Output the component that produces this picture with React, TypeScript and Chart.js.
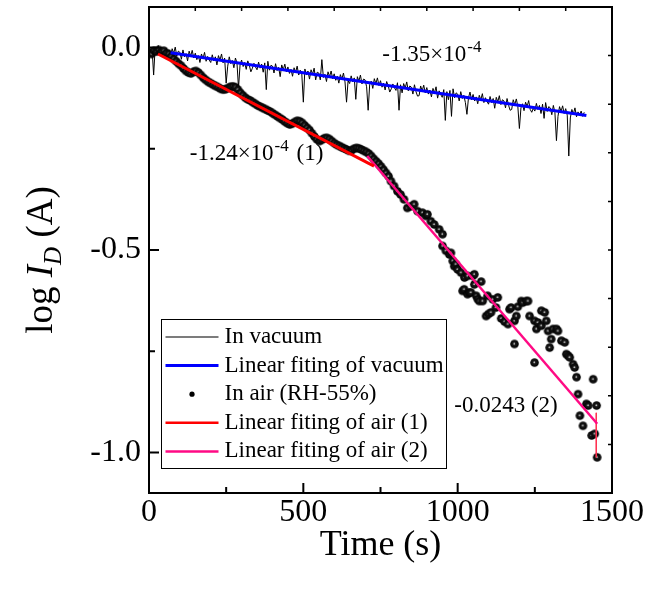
import React, { useEffect, useRef } from "react";
import { Chart, registerables } from "chart.js";

Chart.register(...registerables);

const FONT = "'Liberation Serif', 'Times New Roman', serif";

// ---- axes ----
const X_RANGE = [0, 1500];
const Y_RANGE = [-1.1, 0.1];
const X_TICKS = [0, 500, 1000, 1500];
const X_MINOR_TICKS = [250, 750, 1250];
const Y_TICKS = [0, -0.5, -1.0];
const Y_MINOR_TICKS = [-0.25, -0.75];
const TOP_TICKS = [150, 300, 450, 600, 750, 900, 1050, 1200, 1350];
const RIGHT_TICKS = [-0.98, -0.86, -0.74, -0.62, -0.5, -0.38, -0.26, -0.14, -0.02];
const X_TITLE = "Time (s)";

// ---- In vacuum (sampled every 5 s) ----
const VACUUM_T_STEP = 5;
const VACUUM_LOGI = [
  0.003, -0.013, -0.003, -0.068, 0.001, -0.010, 0.005, -0.017, -0.005, -0.014,
  -0.020, -0.001, -0.016, -0.006, -0.026, -0.003, -0.014, 0.001, -0.021, -0.009,
  -0.012, -0.029, -0.006, -0.023, -0.015, -0.033, -0.009, -0.021, -0.007, -0.026,
  -0.014, -0.030, -0.020, -0.037, -0.016, -0.027, -0.012, -0.034, -0.022, -0.031,
  -0.037, -0.018, -0.033, -0.023, -0.043, -0.020, -0.031, -0.016, -0.038, -0.026,
  -0.088, -0.046, -0.023, -0.040, -0.032, -0.050, -0.026, -0.038, -0.100, -0.043,
  -0.031, -0.047, -0.037, -0.054, -0.033, -0.044, -0.060, -0.051, -0.039, -0.048,
  -0.055, -0.036, -0.051, -0.041, -0.061, -0.038, -0.104, -0.034, -0.056, -0.044,
  -0.046, -0.063, -0.040, -0.057, -0.049, -0.072, -0.043, -0.055, -0.041, -0.060,
  -0.048, -0.064, -0.054, -0.071, -0.050, -0.061, -0.046, -0.068, -0.056, -0.065,
  -0.135, -0.053, -0.068, -0.058, -0.078, -0.055, -0.066, -0.051, -0.080, -0.061,
  -0.063, -0.080, -0.030, -0.074, -0.066, -0.084, -0.060, -0.072, -0.058, -0.077,
  -0.065, -0.081, -0.071, -0.088, -0.067, -0.078, -0.063, -0.085, -0.135, -0.082,
  -0.089, -0.070, -0.085, -0.075, -0.128, -0.072, -0.083, -0.068, -0.090, -0.078,
  -0.080, -0.097, -0.155, -0.091, -0.083, -0.101, -0.077, -0.089, -0.075, -0.094,
  -0.082, -0.098, -0.088, -0.105, -0.084, -0.095, -0.110, -0.102, -0.090, -0.099,
  -0.106, -0.087, -0.155, -0.092, -0.112, -0.089, -0.100, -0.085, -0.107, -0.095,
  -0.098, -0.115, -0.092, -0.109, -0.120, -0.119, -0.095, -0.107, -0.093, -0.112,
  -0.099, -0.115, -0.105, -0.122, -0.101, -0.112, -0.097, -0.125, -0.107, -0.116,
  -0.123, -0.104, -0.180, -0.109, -0.129, -0.106, -0.170, -0.102, -0.124, -0.112,
  -0.115, -0.132, -0.109, -0.126, -0.118, -0.136, -0.165, -0.124, -0.110, -0.129,
  -0.116, -0.132, -0.122, -0.139, -0.118, -0.129, -0.114, -0.136, -0.124, -0.133,
  -0.140, -0.121, -0.136, -0.126, -0.150, -0.123, -0.134, -0.119, -0.141, -0.129,
  -0.132, -0.149, -0.126, -0.143, -0.155, -0.153, -0.129, -0.141, -0.127, -0.146,
  -0.200, -0.149, -0.139, -0.156, -0.135, -0.146, -0.131, -0.153, -0.160, -0.150,
  -0.157, -0.138, -0.153, -0.143, -0.163, -0.140, -0.175, -0.136, -0.158, -0.146,
  -0.149, -0.166, -0.143, -0.160, -0.230, -0.170, -0.146, -0.158, -0.144, -0.163,
  -0.151, -0.167, -0.268, -0.174, -0.153, -0.164, -0.149, -0.171, -0.159, -0.168,
  -0.157, -0.170, -0.160,
];

// ---- In air (RH-55%) ----
const AIR_T = [
  0, 8, 16, 24, 32, 40, 48, 56, 64, 72, 80, 88, 96, 104, 112, 120, 128, 136, 144, 152,
  160, 168, 176, 184, 192, 200, 208, 216, 224, 232, 240, 248, 256, 264, 272, 280, 288, 296, 304, 312,
  320, 328, 336, 344, 352, 360, 368, 376, 384, 392, 400, 408, 416, 424, 432, 440, 448, 456, 464, 472,
  480, 488, 496, 504, 512, 520, 528, 536, 544, 552, 560, 568, 576, 584, 592, 600, 608, 616, 624, 632,
  640, 648, 656, 664, 672, 680, 688, 696, 704, 712, 720, 728, 736, 744, 752, 760, 768, 776, 784,
  794, 805, 815, 826, 837, 848, 859, 870, 886, 897, 902, 913, 924, 940, 951, 951, 962, 973, 978, 984,
  989, 994, 1000, 1011, 1016, 1021, 1022, 1032, 1032, 1038, 1043, 1049, 1054, 1054, 1060, 1065, 1070, 1076, 1081, 1092,
  1097, 1100, 1108, 1114, 1124, 1130, 1141, 1152, 1163, 1168, 1173, 1184, 1184, 1190, 1195, 1206, 1211, 1222, 1228, 1233,
  1249, 1249, 1255, 1260, 1271, 1271, 1282, 1287, 1293, 1298, 1303, 1309, 1320, 1325, 1336, 1347, 1352, 1358, 1363, 1374,
  1379, 1385, 1390, 1396, 1406, 1417, 1423, 1434, 1439, 1444, 1450, 1452,
];
const AIR_LOGI = [
  -0.012, -0.016, -0.008, -0.010, -0.006, -0.010, -0.008, -0.014, -0.016, -0.022,
  -0.028, -0.034, -0.040, -0.045, -0.052, -0.058, -0.062, -0.064, -0.060, -0.058,
  -0.062, -0.068, -0.075, -0.080, -0.085, -0.088, -0.092, -0.095, -0.098, -0.102,
  -0.104, -0.103, -0.100, -0.097, -0.096, -0.098, -0.104, -0.112, -0.118, -0.124,
  -0.128, -0.131, -0.135, -0.139, -0.143, -0.146, -0.149, -0.152, -0.155, -0.158,
  -0.162, -0.166, -0.170, -0.174, -0.178, -0.183, -0.187, -0.190, -0.188, -0.184,
  -0.181, -0.182, -0.186, -0.192, -0.198, -0.204, -0.212, -0.220, -0.227, -0.231,
  -0.228, -0.224, -0.223, -0.226, -0.231, -0.236, -0.240, -0.243, -0.246, -0.249,
  -0.252, -0.255, -0.254, -0.250, -0.248, -0.249, -0.252, -0.255, -0.258, -0.262,
  -0.268, -0.275, -0.281, -0.287, -0.294, -0.302, -0.310, -0.318, -0.330,
  -0.342, -0.355, -0.363, -0.375, -0.396, -0.392, -0.387, -0.404, -0.408, -0.416,
  -0.412, -0.429, -0.437, -0.449, -0.461, -0.490, -0.502, -0.511, -0.507, -0.527,
  -0.540, -0.535, -0.548, -0.556, -0.601, -0.597, -0.568, -0.564, -0.609, -0.605,
  -0.605, -0.564, -0.560, -0.585, -0.613, -0.621, -0.626, -0.578, -0.626, -0.663,
  -0.613, -0.658, -0.654, -0.622, -0.642, -0.617, -0.669, -0.677, -0.683, -0.646,
  -0.642, -0.675, -0.732, -0.663, -0.640, -0.626, -0.630, -0.626, -0.626, -0.663,
  -0.675, -0.778, -0.695, -0.679, -0.650, -0.687, -0.654, -0.675, -0.700, -0.741,
  -0.720, -0.695, -0.695, -0.700, -0.724, -0.728, -0.757, -0.761, -0.765, -0.782,
  -0.790, -0.814, -0.856, -0.909, -0.934, -0.880, -0.884, -0.958, -0.819, -0.954,
  -0.884, -1.012,
];

// ---- linear fits (end points) ----
const FIT_VACUUM_T = [70, 1417];
const FIT_VACUUM_LOGI = [-0.013, -0.168];
const FIT_AIR1_T = [29, 729];
const FIT_AIR1_LOGI = [-0.016, -0.293];
const FIT_AIR2_T = [707, 1452];
const FIT_AIR2_LOGI = [-0.268, -0.929];
const FIT_AIR2_TAIL_T = [1449, 1449];
const FIT_AIR2_TAIL_LOGI = [-0.902, -1.012];

// ---- legend & annotations ----
const LEGEND_LABELS = [
  "In vacuum",
  "Linear fiting of vacuum",
  "In air (RH-55%)",
  "Linear fiting of air (1)",
  "Linear fiting of air (2)",
];
const ANNOT_VACUUM = { t: 756, v: -0.034, main: "-1.35×10", sup: "-4", tail: "" };
const ANNOT_AIR1 = { t: 132, v: -0.277, main: "-1.24×10", sup: "-4", tail: " (1)" };
const ANNOT_AIR2 = { t: 989, v: -0.9, main: "-0.0243 (2)", sup: "", tail: "" };

const COLORS = {
  vacuum: "#000000",
  fitVacuum: "#0000ff",
  fitAir1: "#ff0000",
  fitAir2: "#ff0a84",
};

const pts = (xs: number[], ys: number[]) => xs.map((x, i) => ({ x, y: ys[i] }));

function makeBall(r: number) {
  const c = document.createElement("canvas");
  const s = Math.ceil(r * 2) + 2;
  c.width = s;
  c.height = s;
  const g = c.getContext("2d")!;
  const cx = s / 2;
  const cy = s / 2;
  const grad = g.createRadialGradient(cx - 0.3, cy - 0.3, 0, cx, cy, r);
  grad.addColorStop(0, "#ffffff");
  grad.addColorStop(0.12, "#b0b0b0");
  grad.addColorStop(0.3, "#1a1a1a");
  grad.addColorStop(1, "#000000");
  g.fillStyle = grad;
  g.beginPath();
  g.arc(cx, cy, r, 0, Math.PI * 2);
  g.fill();
  return c;
}

function drawRich(ctx: CanvasRenderingContext2D, x: number, y: number, a: { main: string; sup: string; tail: string }) {
  ctx.textBaseline = "alphabetic";
  ctx.textAlign = "left";
  ctx.fillStyle = "#000";
  ctx.font = `23px ${FONT}`;
  ctx.fillText(a.main, x, y);
  let cx = x + ctx.measureText(a.main).width;
  if (a.sup) {
    ctx.font = `17px ${FONT}`;
    ctx.fillText(a.sup, cx + 1, y - 9);
    cx += ctx.measureText(a.sup).width + 1;
  }
  if (a.tail) {
    ctx.font = `23px ${FONT}`;
    ctx.fillText(a.tail, cx + 2, y);
  }
}

const decorPlugin = {
  id: "decor",
  afterDatasetsDraw(chart: any) {
    const { ctx, chartArea: a, scales } = chart;
    const xs = scales.x;
    const ys = scales.y;
    ctx.save();
    ctx.strokeStyle = "#000";
    ctx.lineWidth = 2;
    ctx.strokeRect(a.left, a.top, a.right - a.left, a.bottom - a.top);
    ctx.beginPath();
    const seg = (x1: number, y1: number, x2: number, y2: number) => {
      ctx.moveTo(x1, y1);
      ctx.lineTo(x2, y2);
    };
    X_TICKS.forEach((v) => {
      const p = xs.getPixelForValue(v);
      seg(p, a.bottom, p, a.bottom - 10);
    });
    X_MINOR_TICKS.forEach((v) => {
      const p = xs.getPixelForValue(v);
      seg(p, a.bottom, p, a.bottom - 6);
    });
    Y_TICKS.forEach((v) => {
      const p = ys.getPixelForValue(v);
      seg(a.left, p, a.left + 10, p);
    });
    Y_MINOR_TICKS.forEach((v) => {
      const p = ys.getPixelForValue(v);
      seg(a.left, p, a.left + 6, p);
    });
    ctx.stroke();
    ctx.lineWidth = 1.5;
    ctx.beginPath();
    TOP_TICKS.forEach((v) => {
      const p = xs.getPixelForValue(v);
      seg(p, a.top, p, a.top + 4);
    });
    RIGHT_TICKS.forEach((v) => {
      const p = ys.getPixelForValue(v);
      seg(a.right, p, a.right - 4, p);
    });
    ctx.stroke();
    ctx.restore();
  },
  afterDraw(chart: any) {
    const { ctx, chartArea: a, scales } = chart;
    const xs = scales.x;
    const ys = scales.y;
    ctx.save();

    // annotations
    [ANNOT_VACUUM, ANNOT_AIR1, ANNOT_AIR2].forEach((an) => {
      drawRich(ctx, xs.getPixelForValue(an.t), ys.getPixelForValue(an.v), an);
    });

    // legend
    const lx = a.left + 12.5;
    const ly = a.top + 312.5;
    const lw = 285;
    const lh = 149;
    ctx.fillStyle = "#fff";
    ctx.fillRect(lx, ly, lw, lh);
    ctx.strokeStyle = "#000";
    ctx.lineWidth = 1;
    ctx.strokeRect(lx, ly, lw, lh);
    const rowY = (i: number) => ly + 17.5 + i * 28.6;
    const sx1 = lx + 4;
    const sx2 = lx + 57;
    const styles = [
      { color: "#505050", w: 1.5, dot: false },
      { color: COLORS.fitVacuum, w: 3, dot: false },
      { color: "#000", w: 0, dot: true },
      { color: COLORS.fitAir1, w: 2.5, dot: false },
      { color: COLORS.fitAir2, w: 2.5, dot: false },
    ];
    styles.forEach((s, i) => {
      const y = rowY(i);
      if (s.dot) {
        ctx.fillStyle = "#000";
        ctx.beginPath();
        ctx.arc((sx1 + sx2) / 2, y, 2.6, 0, Math.PI * 2);
        ctx.fill();
      } else {
        ctx.strokeStyle = s.color;
        ctx.lineWidth = s.w;
        ctx.beginPath();
        ctx.moveTo(sx1, y);
        ctx.lineTo(sx2, y);
        ctx.stroke();
      }
    });
    ctx.fillStyle = "#000";
    ctx.font = `23px ${FONT}`;
    ctx.textAlign = "left";
    ctx.textBaseline = "middle";
    LEGEND_LABELS.forEach((t, i) => ctx.fillText(t, lx + 63, rowY(i)));

    // x title
    ctx.font = `36px ${FONT}`;
    ctx.textAlign = "center";
    ctx.textBaseline = "alphabetic";
    ctx.fillText(X_TITLE, (a.left + a.right) / 2, 555);

    // y title: log I_D (A)
    const parts = [
      { t: "log ", f: `37px ${FONT}`, dy: 0 },
      { t: "I", f: `italic 37px ${FONT}`, dy: 0 },
      { t: "D", f: `italic 25px ${FONT}`, dy: 9 },
      { t: " (A)", f: `37px ${FONT}`, dy: 0 },
    ];
    let total = 0;
    const widths = parts.map((p) => {
      ctx.font = p.f;
      const w = ctx.measureText(p.t).width;
      total += w;
      return w;
    });
    ctx.translate(52, 260);
    ctx.rotate(-Math.PI / 2);
    ctx.textAlign = "left";
    ctx.textBaseline = "alphabetic";
    let cx = -total / 2;
    parts.forEach((p, i) => {
      ctx.font = p.f;
      ctx.fillText(p.t, cx, p.dy);
      cx += widths[i];
    });
    ctx.restore();
  },
};

export default function App() {
  const ref = useRef<HTMLCanvasElement | null>(null);
  useEffect(() => {
    if (!ref.current) return;
    const ball = makeBall(4.3);
    const vacuumPts = VACUUM_LOGI.map((y, i) => ({ x: i * VACUUM_T_STEP, y }));
    const chart = new Chart(ref.current, {
      type: "scatter",
      data: {
        datasets: [
          {
            label: LEGEND_LABELS[3],
            data: pts(FIT_AIR1_T, FIT_AIR1_LOGI),
            showLine: true,
            borderColor: COLORS.fitAir1,
            borderWidth: 3,
            pointRadius: 0,
          },
          {
            label: LEGEND_LABELS[4],
            data: pts(FIT_AIR2_T, FIT_AIR2_LOGI),
            showLine: true,
            borderColor: COLORS.fitAir2,
            borderWidth: 2.5,
            pointRadius: 0,
          },
          {
            label: "tail",
            data: pts(FIT_AIR2_TAIL_T, FIT_AIR2_TAIL_LOGI),
            showLine: true,
            borderColor: "#ff3050",
            borderWidth: 1,
            pointRadius: 0,
          },
          {
            label: LEGEND_LABELS[1],
            data: pts(FIT_VACUUM_T, FIT_VACUUM_LOGI),
            showLine: true,
            borderColor: COLORS.fitVacuum,
            borderWidth: 3,
            pointRadius: 0,
          },
          {
            label: LEGEND_LABELS[2],
            data: pts(AIR_T, AIR_LOGI),
            showLine: false,
            pointStyle: ball as any,
            pointRadius: 4,
          },
          {
            label: LEGEND_LABELS[0],
            data: vacuumPts,
            showLine: true,
            borderColor: COLORS.vacuum,
            borderWidth: 1,
            pointRadius: 0,
          },
        ],
      },
      options: {
        animation: false,
        responsive: false,
        devicePixelRatio: 1,
        events: [],
        layout: { padding: { top: 7, right: 36, left: 0, bottom: 0 } },
        plugins: { legend: { display: false }, tooltip: { enabled: false } },
        scales: {
          x: {
            type: "linear",
            position: "bottom",
            min: X_RANGE[0],
            max: X_RANGE[1],
            grid: { display: false, drawTicks: false },
            border: { display: false },
            ticks: {
              color: "#000",
              font: { family: FONT, size: 32 },
              padding: 0,
              maxRotation: 0,
              autoSkip: false,
              callback: (v: any) => String(v),
            },
            afterBuildTicks: (s: any) => {
              s.ticks = X_TICKS.map((value) => ({ value }));
            },
            afterFit: (s: any) => {
              s.height = 100;
              s.paddingLeft = 0;
              s.paddingRight = 0;
            },
          },
          y: {
            type: "linear",
            position: "left",
            min: Y_RANGE[0],
            max: Y_RANGE[1],
            grid: { display: false, drawTicks: false },
            border: { display: false },
            ticks: {
              color: "#000",
              font: { family: FONT, size: 32 },
              padding: 8,
              autoSkip: false,
              callback: (v: any) => Number(v).toFixed(1),
            },
            afterBuildTicks: (s: any) => {
              s.ticks = Y_TICKS.map((value) => ({ value }));
            },
            afterFit: (s: any) => {
              s.width = 149;
              s.paddingTop = 0;
              s.paddingBottom = 0;
            },
          },
        },
      },
      plugins: [decorPlugin],
    } as any);
    return () => chart.destroy();
  }, []);
  return (
    <div style={{ position: "absolute", left: 0, top: 0, width: 648, height: 593, background: "#fff" }}>
      <canvas ref={ref} width={648} height={593} style={{ display: "block" }} />
    </div>
  );
}
